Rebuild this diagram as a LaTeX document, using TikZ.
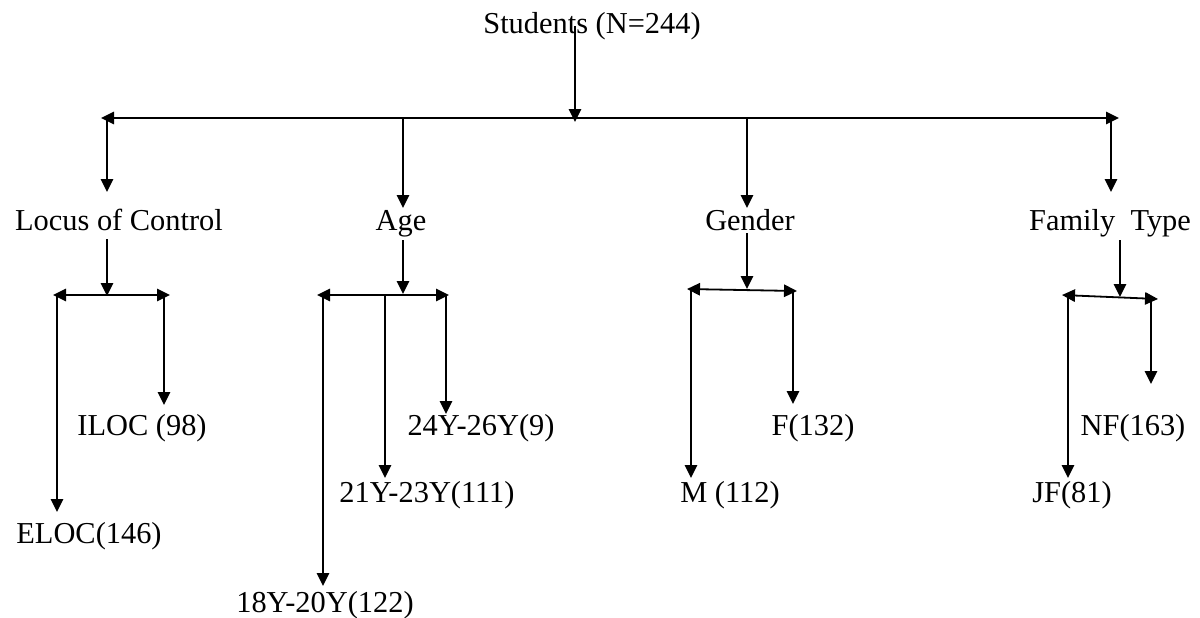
\documentclass[tikz,border=0pt]{standalone}
\usepackage{fontspec}
\setmainfont{Liberation Serif}
\usetikzlibrary{arrows.meta}
\begin{document}
\begin{tikzpicture}[x=0.5pt,y=-0.5pt,
  lbl/.style={font=\fontsize{15.2}{18}\selectfont, inner sep=0pt, anchor=base},
  arr/.style={-{Triangle[length=6.5pt,width=6.2pt]}, line width=0.9pt},
  dbl/.style={{Triangle[length=6.5pt,width=6.2pt]}-{Triangle[length=6.5pt,width=6.2pt]}, line width=0.9pt}]
\useasboundingbox (0,0) rectangle (1200,617);
% nodes
\node[lbl] (stu) at (592,33) {Students (N=244)};
\node[lbl] (loc) at (119,230) {Locus of Control};
\node[lbl] (age) at (401,230) {Age};
\node[lbl] (gen) at (750,230) {Gender};
\node[lbl] (fam) at (1110,230) {Family\ \ Type};
\node[lbl] (iloc) at (142,435) {ILOC (98)};
\node[lbl] (eloc) at (89,543) {ELOC(146)};
\node[lbl] (a3) at (481,435) {24Y-26Y(9)};
\node[lbl] (a2) at (427,502) {21Y-23Y(111)};
\node[lbl] (a1) at (325,612) {18Y-20Y(122)};
\node[lbl] (f) at (813,435) {F(132)};
\node[lbl] (m) at (730,502) {M (112)};
\node[lbl] (nf) at (1133,435) {NF(163)};
\node[lbl] (jf) at (1072,502) {JF(81)};
% top level
\coordinate (sTop) at (575,26);
\coordinate (hS) at (575,122);
\coordinate (hL) at (101,118);
\coordinate (hR) at (1119,118);
\draw[arr] (sTop) -- (hS);
\draw[dbl] (hL) -- (hR);
\coordinate (b1) at (107,118); \coordinate (t1) at (107,192);
\coordinate (b2) at (403,118); \coordinate (t2) at (403,208);
\coordinate (b3) at (747,118); \coordinate (t3) at (747,208);
\coordinate (b4) at (1111,118); \coordinate (t4) at (1111,192);
\draw[arr] (b1) -- (t1);
\draw[arr] (b2) -- (t2);
\draw[arr] (b3) -- (t3);
\draw[arr] (b4) -- (t4);
% locus
\coordinate (l0) at (107,239); \coordinate (l1) at (107,296);
\coordinate (lL) at (53,295); \coordinate (lR) at (170,295);
\coordinate (lx1) at (57,295); \coordinate (lx2) at (164,295);
\coordinate (le) at (57,512); \coordinate (li) at (164,405);
\draw[arr] (l0) -- (l1);
\draw[dbl] (lL) -- (lR);
\draw[arr] (lx1) -- (le);
\draw[arr] (lx2) -- (li);
% age
\coordinate (g0) at (403,240); \coordinate (g1) at (403,294);
\coordinate (gL) at (317,295); \coordinate (gR) at (449,295);
\coordinate (gx1) at (323,295); \coordinate (gx2) at (385,295); \coordinate (gx3) at (446,295);
\coordinate (ge1) at (323,586); \coordinate (ge2) at (385,478); \coordinate (ge3) at (446,414);
\draw[arr] (g0) -- (g1);
\draw[dbl] (gL) -- (gR);
\draw[arr] (gx1) -- (ge1);
\draw[arr] (gx2) -- (ge2);
\draw[arr] (gx3) -- (ge3);
% gender
\coordinate (n0) at (747,233); \coordinate (n1) at (747,289);
\coordinate (nL) at (687,289); \coordinate (nR) at (797,291);
\coordinate (nx1) at (691,289); \coordinate (nx2) at (793,291);
\coordinate (ne1) at (691,478); \coordinate (ne2) at (793,404);
\draw[arr] (n0) -- (n1);
\draw[dbl] (nL) -- (nR);
\draw[arr] (nx1) -- (ne1);
\draw[arr] (nx2) -- (ne2);
% family
\coordinate (p0) at (1120,240); \coordinate (p1) at (1120,297);
\coordinate (pL) at (1062,295); \coordinate (pR) at (1158,299);
\coordinate (px1) at (1068,295); \coordinate (px2) at (1151,299);
\coordinate (pe1) at (1068,478); \coordinate (pe2) at (1151,384);
\draw[arr] (p0) -- (p1);
\draw[dbl] (pL) -- (pR);
\draw[arr] (px1) -- (pe1);
\draw[arr] (px2) -- (pe2);
\end{tikzpicture}
\end{document}
